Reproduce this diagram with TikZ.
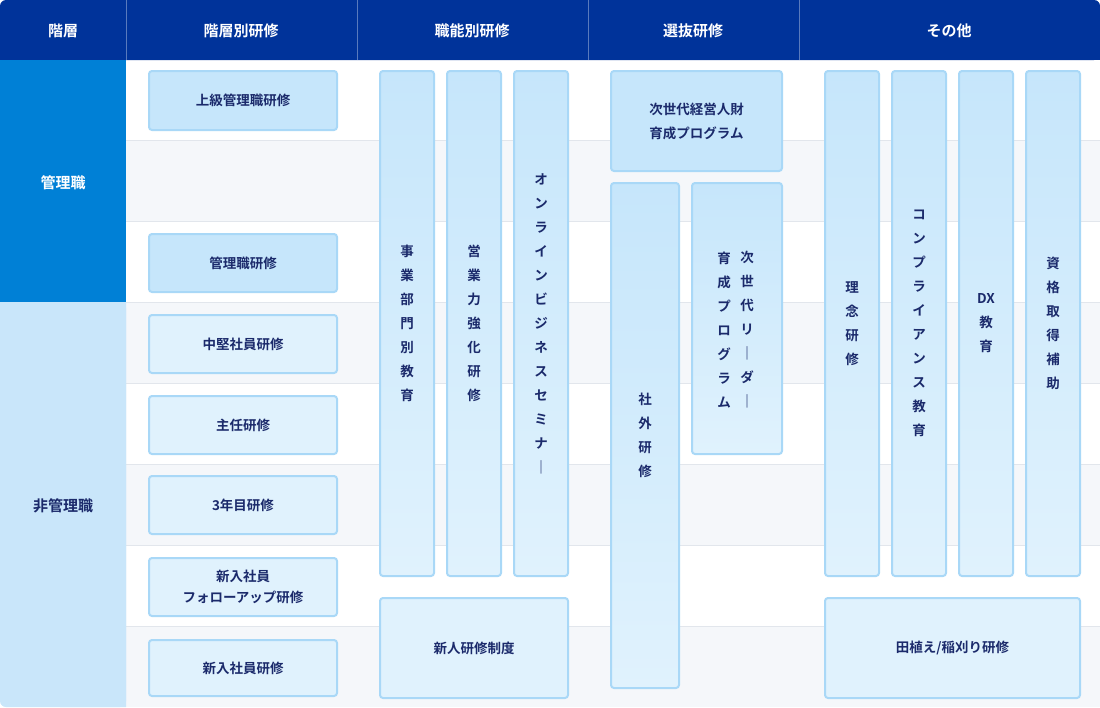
\documentclass[tikz,border=0pt]{standalone}
\usepackage{fontspec}
\newfontfamily\jp{Noto Sans CJK JP Bold}
\definecolor{hdr}{HTML}{00339A}
\definecolor{mgr}{HTML}{0080D6}
\definecolor{nmgr}{HTML}{C9E6FA}
\definecolor{rowg}{HTML}{F5F7FA}
\definecolor{sep}{HTML}{E2E6EC}
\definecolor{bx}{HTML}{C6E6FB}
\definecolor{bxl}{HTML}{E0F2FD}
\definecolor{bxb}{HTML}{A9D8F7}
\definecolor{txt}{HTML}{1B2A6B}
\tikzset{
 hd/.style={text=white,font=\jp\fontsize{15}{18}\selectfont},
 bxs/.style={draw=bxb,line width=2pt,rounded corners=3pt,top color=bx,bottom color=bxl,text=txt,font=\jp\fontsize{13.5}{22}\selectfont,align=center,inner sep=0},
 bxd/.style={bxs,top color=bx,bottom color=bx},
 bxw/.style={bxs,top color=bxl,bottom color=bxl},
}
\newcommand\bx[6]{\node[#6,minimum width=#3-#2,minimum height=#5-#4,anchor=north west] (#1) at (#2,#4) {};}
\begin{document}
\begin{tikzpicture}[x=1pt,y=-1pt]
\useasboundingbox (0,0) rectangle (1100,707);
\fill[white,rounded corners=6pt] (0,0) rectangle (1100,707);
\foreach \a/\b in {140/221,302/383,464/545,626/707}
  \fill[rowg] (126,\a) rectangle (1100,\b);
\foreach \a in {140,221,302,383,464,545,626}
  \draw[sep] (126,\a) -- (1100,\a);
\fill[hdr,rounded corners=6pt] (0,0) rectangle (1100,60);
\fill[hdr] (0,30) rectangle (1100,60);
\foreach \x in {126,357,588,799} \draw[white!35!hdr] (\x,0) -- (\x,60);
\node[hd] (h1) at (63,31) {階層};
\node[hd] (h2) at (241,31) {階層別研修};
\node[hd] (h3) at (472,31) {職能別研修};
\node[hd] (h4) at (693,31) {選抜研修};
\node[hd] (h5) at (949,31) {その他};
\fill[mgr] (0,60) rectangle (126,302);
\fill[nmgr,rounded corners=6pt] (0,302) rectangle (126,707);
\fill[nmgr] (0,302) rectangle (126,650) (60,650) rectangle (126,707);
\node[text=white,font=\jp\fontsize{15}{18}\selectfont] (m) at (63,183) {管理職};
\node[text=txt,font=\jp\fontsize{15}{18}\selectfont] (nm) at (63,506) {非管理職};
% hierarchy
\bx{a1}{148}{336}{70}{129}{bxd}\node[text=txt,font=\jp\fontsize{13.5}{18}\selectfont] at (a1) {上級管理職研修};
\bx{a2}{148}{336}{233}{291}{bxd}\node[text=txt,font=\jp\fontsize{13.5}{18}\selectfont] at (a2) {管理職研修};
\bx{a3}{148}{336}{314}{372}{bxw}\node[text=txt,font=\jp\fontsize{13.5}{18}\selectfont] at (a3) {中堅社員研修};
\bx{a4}{148}{336}{395}{453}{bxw}\node[text=txt,font=\jp\fontsize{13.5}{18}\selectfont] at (a4) {主任研修};
\bx{a5}{148}{336}{475}{533}{bxw}\node[text=txt,font=\jp\fontsize{13.5}{18}\selectfont] at (a5) {3年目研修};
\bx{a6}{148}{336}{557}{615}{bxw}\node[text=txt,font=\jp\fontsize{13.5}{21}\selectfont,align=center] at (a6) {新入社員\\フォローアップ研修};
\bx{a7}{148}{336}{639}{695}{bxw}\node[text=txt,font=\jp\fontsize{13.5}{18}\selectfont] at (a7) {新入社員研修};
% functional
\bx{b1}{379}{433}{70}{575}{bxs}\node[text=txt,font=\jp\fontsize{13.5}{24}\selectfont,align=center] at (b1) {事\\業\\部\\門\\別\\教\\育};
\bx{b2}{446}{500}{70}{575}{bxs}\node[text=txt,font=\jp\fontsize{13.5}{24}\selectfont,align=center] at (b2) {営\\業\\力\\強\\化\\研\\修};
\bx{b3}{513}{567}{70}{575}{bxs}\node[text=txt,font=\jp\fontsize{13.5}{24}\selectfont,align=center] at (b3) {オ\\ン\\ラ\\イ\\ン\\ビ\\ジ\\ネ\\ス\\セ\\ミ\\ナ\\｜};
\bx{b4}{379}{567}{597}{697}{bxw}\node[text=txt,font=\jp\fontsize{13.5}{18}\selectfont] at (b4) {新人研修制度};
% selection
\bx{c1}{610}{781}{70}{170}{bxd}\node[text=txt,font=\jp\fontsize{13.5}{24}\selectfont,align=center] at (c1) {次世代経営人財\\育成プログラム};
\bx{c2}{610}{678}{182}{687}{bxs}\node[text=txt,font=\jp\fontsize{13.5}{24}\selectfont,align=center] at (c2) {社\\外\\研\\修};
\bx{c3}{691}{781}{182}{453}{bxs}
\node[text=txt,font=\jp\fontsize{13.5}{24}\selectfont,align=center,anchor=north] at (747,248) {次\\世\\代\\リ\\｜\\ダ\\｜};
\node[text=txt,font=\jp\fontsize{13.5}{24}\selectfont,align=center,anchor=north] at (724,248) {育\\成\\プ\\ロ\\グ\\ラ\\ム};
% other
\bx{d1}{824}{878}{70}{575}{bxs}\node[text=txt,font=\jp\fontsize{13.5}{24}\selectfont,align=center] at (d1) {理\\念\\研\\修};
\bx{d2}{891}{945}{70}{575}{bxs}\node[text=txt,font=\jp\fontsize{13.5}{24}\selectfont,align=center] at (d2) {コ\\ン\\プ\\ラ\\イ\\ア\\ン\\ス\\教\\育};
\bx{d3}{958}{1012}{70}{575}{bxs}\node[text=txt,font=\jp\fontsize{13.5}{24}\selectfont,align=center] at (d3) {DX\\教\\育};
\bx{d4}{1025}{1079}{70}{575}{bxs}\node[text=txt,font=\jp\fontsize{13.5}{24}\selectfont,align=center] at (d4) {資\\格\\取\\得\\補\\助};
\bx{d5}{824}{1079}{597}{697}{bxw}\node[text=txt,font=\jp\fontsize{13.5}{18}\selectfont] at (d5) {田植え/稲刈り研修};
\end{tikzpicture}
\end{document}
